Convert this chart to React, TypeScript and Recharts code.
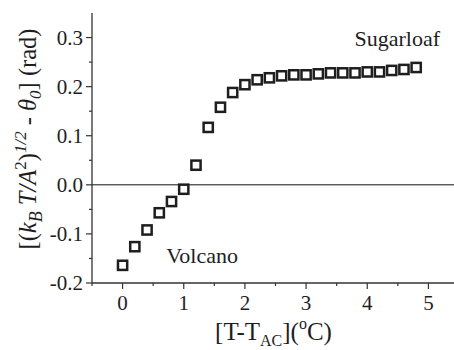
import { ReferenceDot, ReferenceLine, Scatter, ScatterChart, XAxis, YAxis } from 'recharts'

const tempOffsets = [0, 0.2, 0.4, 0.6, 0.8, 1.0, 1.2, 1.4, 1.6, 1.8, 2.0, 2.2, 2.4, 2.6, 2.8, 3.0, 3.2, 3.4, 3.6, 3.8, 4.0, 4.2, 4.4, 4.6, 4.8]
const angleValues = [
  -0.164, -0.126, -0.092, -0.057, -0.034, -0.009, 0.04, 0.117, 0.158, 0.188, 0.204, 0.214, 0.218, 0.222, 0.224, 0.224,
  0.226, 0.228, 0.228, 0.228, 0.23, 0.23, 0.233, 0.235, 0.239,
]
const xTicks = [-0.5, 0, 0.5, 1, 1.5, 2, 2.5, 3, 3.5, 4, 4.5, 5, 5.5]
const yTicks = [-0.2, -0.15, -0.1, -0.05, 0, 0.05, 0.1, 0.15, 0.2, 0.25, 0.3]

// phase labels, anchored in data units (text centre, baseline)
const phaseNames = ['Sugarloaf', 'Volcano']
const phaseX = [4.49, 1.3]
const phaseY = [0.283, -0.16]

const data = tempOffsets.map((x, i) => ({ x, y: angleValues[i] }))

const FONT = '"Liberation Serif", "Times New Roman", serif'
const INK = '#1e1e1e'

function isWhole(v: number, step: number) {
  const q = v / step
  return Math.abs(q - Math.round(q)) < 1e-6
}

function BottomTick(props: any) {
  const { x, y, payload } = props
  const v = payload.value as number
  const major = isWhole(v, 1)
  return (
    <g>
      <line x1={x} x2={x} y1={y} y2={y + (major ? 6 : 3)} stroke="#333" strokeWidth={1.2} />
      {major && v >= 0 && v <= 5 && (
        <text x={x} y={y + 27} textAnchor="middle" fontSize={21} fill={INK}>
          {String(v)}
        </text>
      )}
    </g>
  )
}

function TopTick(props: any) {
  const { x, y } = props
  return <line x1={x} x2={x} y1={y} y2={y + 3} stroke="#888" strokeWidth={1.2} />
}

function LeftTick(props: any) {
  const { x, y, payload } = props
  const v = payload.value as number
  const major = isWhole(v, 0.1)
  return (
    <g>
      <line x1={x} x2={x - (major ? 6 : 3)} y1={y} y2={y} stroke="#333" strokeWidth={1.2} />
      {major && (
        <text x={x - 9} y={y} dy="0.35em" textAnchor="end" fontSize={21} fill={INK}>
          {v.toFixed(1)}
        </text>
      )}
    </g>
  )
}

function XTitle(props: any) {
  const vb = props.viewBox
  const cx = vb.x + vb.width / 2 - 2
  return (
    <text x={cx} y={340} textAnchor="middle" fontSize={25} fill={INK}>
      <tspan>[T-T</tspan>
      <tspan fontSize={16} dy={6}>AC</tspan>
      <tspan dy={-6}>](</tspan>
      <tspan fontSize={16} dy={-11}>o</tspan>
      <tspan dy={11}>C)</tspan>
    </text>
  )
}

function YTitle() {
  const bx = 36
  const cy = 139
  return (
    <text x={bx} y={cy} transform={`rotate(-90, ${bx}, ${cy})`} textAnchor="middle" fontSize={24.5} fill={INK}>
      <tspan>[(</tspan>
      <tspan fontStyle="italic">k</tspan>
      <tspan fontStyle="italic" fontSize={18} dy={6}>B</tspan>
      <tspan fontStyle="italic" dy={-6}> T/A</tspan>
      <tspan fontSize={17} dy={-10}>2</tspan>
      <tspan dy={10}>)</tspan>
      <tspan fontStyle="italic" fontSize={17} dy={-10}>1/2</tspan>
      <tspan dy={10}> - </tspan>
      <tspan fontStyle="italic">θ</tspan>
      <tspan fontStyle="italic" fontSize={17} dy={5}>0</tspan>
      <tspan dy={-5}>] (rad)</tspan>
    </text>
  )
}

function phaseLabel(name: string) {
  return (props: any) => {
    const vb = props.viewBox
    return (
      <text x={vb.x} y={vb.y} textAnchor="middle" fontSize={22} fill={INK}>
        {name}
      </text>
    )
  }
}

function SquareMark(props: any) {
  const { cx, cy } = props
  return <rect x={cx - 4.6} y={cy - 4.6} width={9.2} height={9.2} fill="none" stroke={INK} strokeWidth={2.5} />
}

export default function App() {
  return (
    <div
      style={{
        position: 'absolute',
        left: 0,
        top: 0,
        width: 454,
        height: 350,
        overflow: 'hidden',
        background: '#fff',
        fontFamily: FONT,
      }}
    >
      <ScatterChart width={470} height={350} margin={{ top: 13, right: 11, left: 0, bottom: 0 }}>
        <XAxis
          xAxisId="top"
          orientation="top"
          type="number"
          dataKey="x"
          domain={[-0.5, 5.5]}
          ticks={xTicks}
          height={0}
          tickSize={0}
          tickMargin={0}
          tick={TopTick}
          axisLine={{ stroke: '#888', strokeWidth: 1.5 }}
          tickLine={false}
        />
        <XAxis
          type="number"
          dataKey="x"
          domain={[-0.5, 5.5]}
          ticks={xTicks}
          height={67}
          tickSize={0}
          tickMargin={0}
          tick={BottomTick}
          axisLine={{ stroke: '#333', strokeWidth: 1.3 }}
          tickLine={false}
          label={{ content: XTitle }}
        />
        <YAxis
          type="number"
          dataKey="y"
          domain={[-0.2, 0.35]}
          ticks={yTicks}
          width={92}
          tickSize={0}
          tickMargin={0}
          tick={LeftTick}
          axisLine={{ stroke: '#333', strokeWidth: 1.3 }}
          tickLine={false}
          label={{ content: YTitle }}
        />
        <ReferenceLine y={0} stroke="#111" strokeWidth={1} />
        {phaseNames.map((name, i) => (
          <ReferenceDot
            key={name}
            x={phaseX[i]}
            y={phaseY[i]}
            r={0}
            fill="none"
            stroke="none"
            label={{ content: phaseLabel(name) }}
          />
        ))}
        <Scatter data={data} shape={SquareMark} isAnimationActive={false} />
      </ScatterChart>
    </div>
  )
}
